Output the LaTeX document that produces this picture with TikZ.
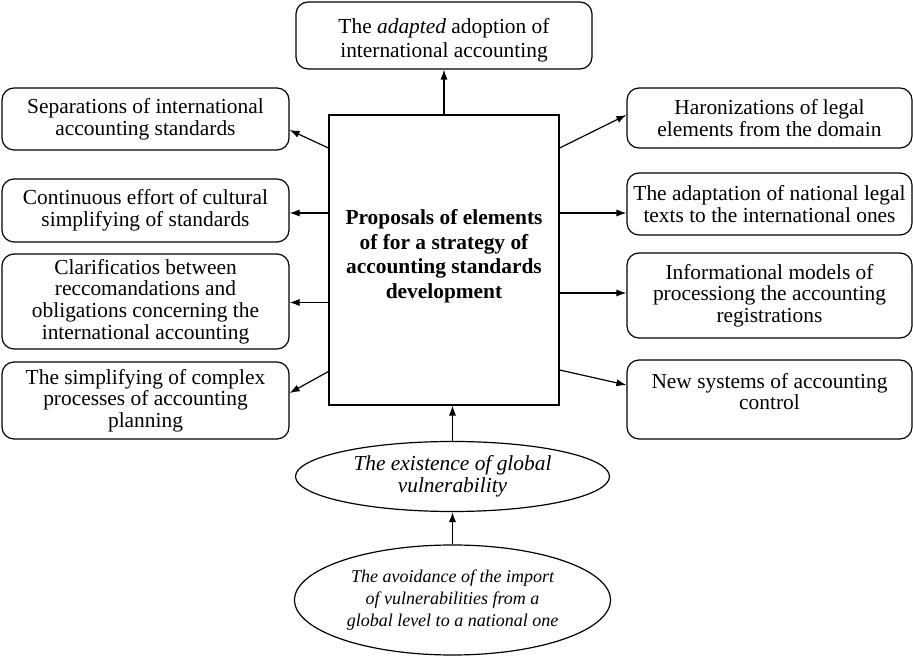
\documentclass[tikz,border=0pt]{standalone}
\usepackage{fontspec}
\setmainfont{Liberation Serif}
\usetikzlibrary{positioning,shapes.geometric,arrows.meta}

\begin{document}
\begin{tikzpicture}[->,>={Latex[length=5pt,width=3.6pt]},line width=0.6pt,on grid,
		box/.style={draw,rounded corners=6pt,align=center,inner sep=0pt,font=\fontsize{10.7}{10.8}\selectfont},
		lbox/.style={box,minimum width=143.5pt},
		rbox/.style={box,minimum width=142.5pt},
		oval/.style={draw,ellipse,inner sep=0pt,align=center,font=\fontsize{10.7}{10.8}\selectfont\itshape}]
	\useasboundingbox (-222pt,-198pt) rectangle (234.5pt,130pt);

	\node[box,rounded corners=0pt,minimum width=115pt,minimum height=145pt,font=\bfseries\fontsize{10.7}{12.25}\selectfont] (main) at (0,0) {Proposals of elements\\of for a strategy of\\accounting standards\\development\\[-6pt]};
	\node[box,minimum width=148pt,minimum height=33.5pt,font=\fontsize{10.7}{12.25}\selectfont] (adopt) [above=112.25pt of main] {\rule{0pt}{12.5pt}The \emph{adapted} adoption of\\international accounting};

	\node[lbox,minimum height=31pt]   (sep)  [above left=70.5pt and 149.25pt of main]  {Separations of international\\accounting standards};
	\node[lbox,minimum height=31.5pt] (cult) [above left=24.75pt and 149.25pt of main] {Continuous effort of cultural\\simplifying of standards};
	\node[lbox,minimum height=47.5pt] (clar) [below left=20.75pt and 149.25pt of main] {Clarificatios between\\reccomandations and\\obligations concerning the\\international accounting};
	\node[lbox,minimum height=38.5pt] (simp) [below left=70.25pt and 149.25pt of main] {The simplifying of complex\\processes of accounting\\planning};

	\node[rbox,minimum height=30pt]   (harm)  [above right=71pt and 162.75pt of main]    {Haronizations of legal\\elements from the domain};
	\node[rbox,minimum height=31pt]   (adapt) [above right=28pt and 162.75pt of main]    {The adaptation of national legal\\texts to the international ones};
	\node[rbox,minimum height=42.5pt] (info)  [below right=17.75pt and 162.75pt of main] {Informational models of\\processiong the accounting\\registrations};
	\node[rbox,minimum height=39.5pt] (ctrl)  [below right=69.75pt and 162.75pt of main] {New systems of accounting\\control\\[-2.8pt]};

	\node[oval,minimum width=157pt,minimum height=35pt] (vuln)  [below=108.25pt of main,xshift=4.25pt] {The existence of global\\vulnerability};
	\node[oval,minimum width=158pt,minimum height=55pt,font=\fontsize{9}{10.8}\selectfont\itshape] (avoid) [below=61.75pt of vuln] {The avoidance of the import\\of vulnerabilities from a\\global level to a national one};

	\draw (main) -- (adopt);
	\draw ([yshift=56pt]main.west)     -- ([yshift=-5.5pt]sep.east);
	\draw ([yshift=23.5pt]main.west)   -- ([yshift=-1.25pt]cult.east);
	\draw ([yshift=-21.25pt]main.west) -- ([yshift=-0.5pt]clar.east);
	\draw ([yshift=-55.75pt]main.west) -- ([yshift=3.75pt]simp.east);
	\draw ([yshift=56pt]main.east)     -- ([yshift=1.5pt]harm.west);
	\draw ([yshift=23.5pt]main.east)   -- ([yshift=-4.5pt]adapt.west);
	\draw ([yshift=-16.5pt]main.east)  -- ([yshift=1.25pt]info.west);
	\draw ([yshift=-55pt]main.east)    -- ([yshift=7.25pt]ctrl.west);
	\draw (vuln.north) -- (vuln.north |- main.south);
	\draw (avoid) -- (vuln);
\end{tikzpicture}
\end{document}
